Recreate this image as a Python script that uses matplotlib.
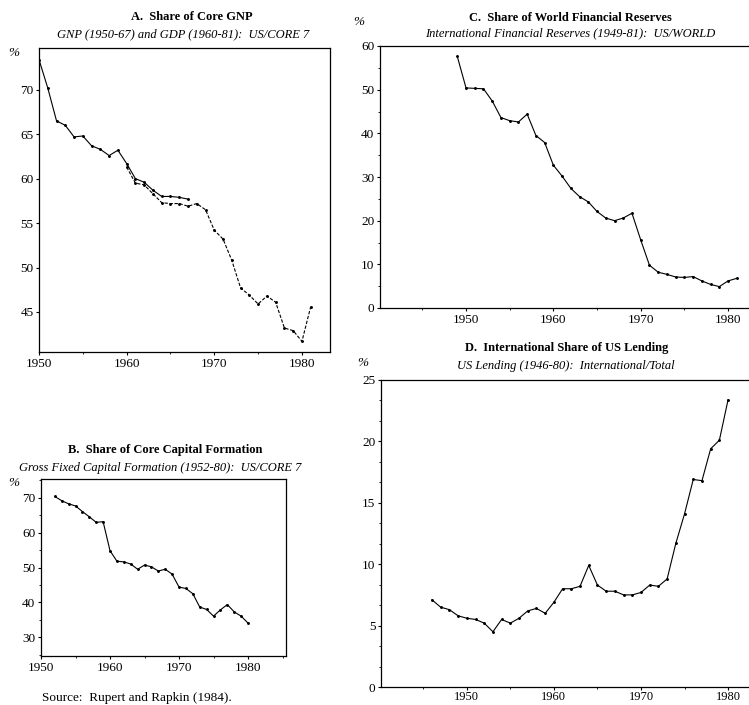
import matplotlib
matplotlib.use("Agg")
import matplotlib.pyplot as plt
from matplotlib.ticker import MultipleLocator, AutoMinorLocator

plt.rcParams["font.family"] = ["Liberation Serif", "DejaVu Serif"]

# A. Share of Core GNP
gnp_years = list(range(1950, 1968))
gnp_share = [73.4, 70.2, 66.5, 66.0, 64.7, 64.8, 63.7, 63.3, 62.6, 63.2,
             61.7, 60.0, 59.6, 58.7, 58.0, 58.0, 57.9, 57.7]
gdp_years = list(range(1960, 1982))
gdp_share = [61.3, 59.5, 59.3, 58.3, 57.3, 57.2, 57.2, 56.9, 57.2, 56.5,
             54.2, 53.2, 50.8, 47.7, 46.9, 45.9, 46.8, 46.1, 43.2, 42.9,
             41.7, 45.6]

# B. Share of Core Capital Formation
gfcf_years = list(range(1952, 1981))
gfcf_share = [70.3, 69.1, 68.2, 67.6, 66.0, 64.5, 62.9, 63.1, 54.8, 51.8,
              51.6, 51.0, 49.5, 50.7, 50.2, 49.0, 49.5, 48.1, 44.4, 44.0,
              42.5, 38.7, 38.0, 36.1, 37.9, 39.4, 37.3, 36.1, 34.1]

# C. Share of World Financial Reserves
res_years = list(range(1949, 1982))
res_share = [57.6, 50.4, 50.3, 50.2, 47.4, 43.6, 42.9, 42.6, 44.4, 39.5,
             37.9, 32.7, 30.2, 27.4, 25.5, 24.3, 22.1, 20.6, 20.0, 20.6,
             21.7, 15.6, 9.8, 8.2, 7.7, 7.1, 7.0, 7.2, 6.2, 5.4,
             4.9, 6.2, 6.8]

# D. International Share of US Lending
lend_years = list(range(1946, 1981))
lend_share = [7.1, 6.5, 6.3, 5.8, 5.6, 5.5, 5.2, 4.5, 5.5, 5.2,
              5.6, 6.2, 6.4, 6.0, 6.9, 8.0, 8.0, 8.2, 9.9, 8.3,
              7.8, 7.8, 7.5, 7.5, 7.7, 8.3, 8.2, 8.8, 11.7, 14.1,
              16.9, 16.8, 19.4, 20.1, 23.4]

W, H = 749, 705
fig = plt.figure(figsize=(W / 100, H / 100), dpi=100)


def box(left, top, right, bottom):
    """Pixel box -> figure fraction rect."""
    return [left / W, 1 - bottom / H, (right - left) / W, (bottom - top) / H]


def ftext(x, y, s, **kw):
    fig.text(x / W, 1 - y / H, s, ha=kw.pop("ha", "center"), va="center", **kw)


def style(ax, ymajor, yminor=None, xminor=5):
    ax.xaxis.set_major_locator(MultipleLocator(10))
    ax.xaxis.set_minor_locator(MultipleLocator(xminor))
    ax.yaxis.set_major_locator(MultipleLocator(ymajor))
    if yminor is not None:
        ax.yaxis.set_minor_locator(yminor)
    ax.tick_params(which="major", direction="out", length=2.5, width=0.8,
                   labelsize=9.5, pad=1.5, top=False, right=False)
    ax.tick_params(which="minor", direction="out", length=1.6, width=0.6,
                   top=False, right=False)
    for sp in ax.spines.values():
        sp.set_linewidth(0.9)


line_kw = dict(color="black", lw=0.8, marker="o", ms=1.1)

# panel A
ax = fig.add_axes(box(39, 48, 330, 352))
ax.plot(gnp_years, gnp_share, **line_kw)
ax.plot(gdp_years, gdp_share, ls=(0, (3, 1.5)), **line_kw)
ax.set_xlim(1950, 1983.2)
ax.set_ylim(40.5, 74.7)
style(ax, 5)
ax.yaxis.set_minor_locator(plt.NullLocator())

# panel B
ax = fig.add_axes(box(41, 479, 286, 656))
ax.plot(gfcf_years, gfcf_share, **line_kw)
ax.set_xlim(1950, 1985.5)
ax.set_ylim(24.7, 75.3)
style(ax, 10, MultipleLocator(5))

# panel C
ax = fig.add_axes(box(380, 46, 749, 308))
ax.plot(res_years, res_share, **line_kw)
ax.set_xlim(1940.15, 1982.4)
ax.set_ylim(0, 60)
style(ax, 10, MultipleLocator(5))
ax.spines["right"].set_visible(False)

# panel D
ax = fig.add_axes(box(381, 380, 749, 687))
ax.plot(lend_years, lend_share, **line_kw)
ax.set_xlim(1940.15, 1982.4)
ax.set_ylim(0, 25)
style(ax, 5, AutoMinorLocator(3))
ax.tick_params(axis="x", which="major", pad=0.5, labelsize=9)
ax.spines["right"].set_visible(False)

# titles and labels
ftext(192, 17, "A.  Share of Core GNP", fontsize=9, fontweight="bold")
ftext(183, 34, "GNP (1950-67) and GDP (1960-81):  US/CORE 7", fontsize=9,
      style="italic")
ftext(14, 53, "%", fontsize=9.5, style="italic")

ftext(165, 450, "B.  Share of Core Capital Formation", fontsize=9,
      fontweight="bold")
ftext(160, 468, "Gross Fixed Capital Formation (1952-80):  US/CORE 7",
      fontsize=9, style="italic")
ftext(14, 483, "%", fontsize=9.5, style="italic")
ftext(42, 698, "Source:  Rupert and Rapkin (1984).", fontsize=9.5, ha="left")

ftext(570, 18, "C.  Share of World Financial Reserves", fontsize=9,
      fontweight="bold")
ftext(570, 33, "International Financial Reserves (1949-81):  US/WORLD",
      fontsize=9, style="italic")
ftext(359, 22, "%", fontsize=9.5, style="italic")

ftext(567, 348, "D.  International Share of US Lending", fontsize=9,
      fontweight="bold")
ftext(566, 366, "US Lending (1946-80):  International/Total", fontsize=9,
      style="italic")
ftext(363, 363, "%", fontsize=9.5, style="italic")

fig.savefig("out.png", dpi=100)
